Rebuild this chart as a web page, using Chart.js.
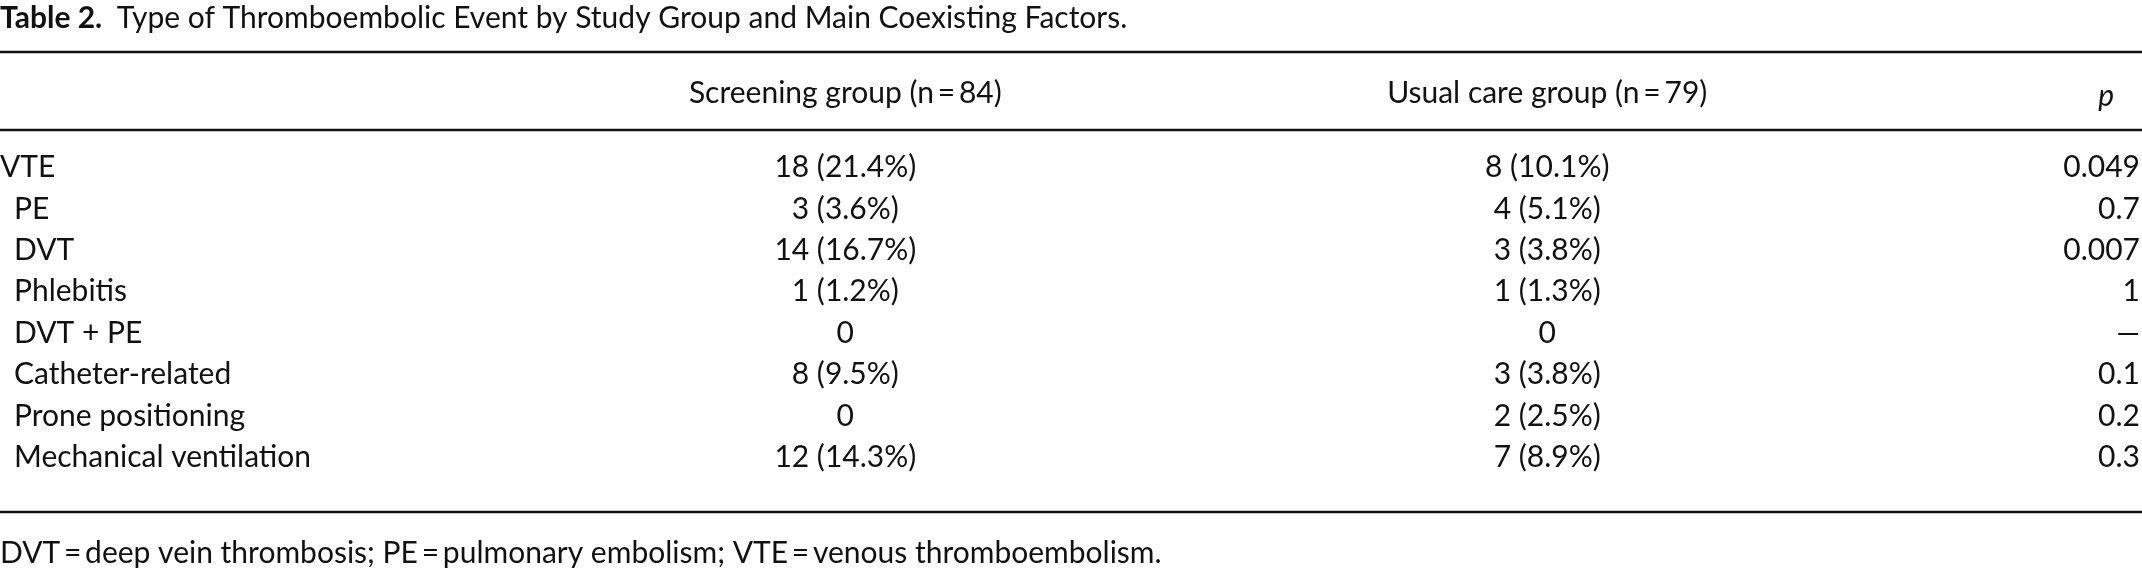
<!DOCTYPE html>
<html>
<head>
<meta charset="utf-8">
<script src="https://cdn.jsdelivr.net/npm/chart.js@4"></script>
<style>
  html, body { margin: 0; padding: 0; background: #fff; }
  #wrap { width: 2142px; height: 570px; }
</style>
</head>
<body>
<div id="wrap"><canvas id="tbl"></canvas></div>
<script>
(function () {
  "use strict";

  // table data
  const rows = ["VTE", "PE", "DVT", "Phlebitis", "DVT + PE", "Catheter-related", "Prone positioning", "Mechanical ventilation"];
  const indented = [false, true, true, true, true, true, true, true];
  const screening = ["18 (21.4%)", "3 (3.6%)", "14 (16.7%)", "1 (1.2%)", "0", "8 (9.5%)", "0", "12 (14.3%)"];
  const usualCare = ["8 (10.1%)", "4 (5.1%)", "3 (3.8%)", "1 (1.3%)", "0", "3 (3.8%)", "2 (2.5%)", "7 (8.9%)"];
  const pValues = ["0.049", "0.7", "0.007", "1", "\u2014", "0.1", "0.2", "0.3"];
  const headers = ["Screening group (n\u2009=\u200984)", "Usual care group (n\u2009=\u200979)"];

  const FONT = "Lato, 'Open Sans', sans-serif";
  const SIZE = "30px ";
  const colX = [0, 39.5, 72.3, 100]; // x-scale positions of columns

  const tablePlugin = {
    id: "tableText",
    afterDraw(chart) {
      const c = chart.ctx;
      const x = chart.scales.x;
      const y = chart.scales.y;
      c.save();
      c.fillStyle = "#111";
      c.textBaseline = "middle";

      // title
      c.font = "bold " + SIZE + FONT;
      c.textAlign = "left";
      c.fillText("Table 2.", 0, 18);
      const tw = c.measureText("Table 2.  ").width;
      c.font = SIZE + FONT;
      c.fillText("Type of Thromboembolic Event by Study Group and Main Coexisting Factors.", tw, 18);

      // rules
      c.strokeStyle = "#111";
      c.lineWidth = 2.5;
      [52, 130, 512].forEach((yy) => {
        c.beginPath();
        c.moveTo(0, yy);
        c.lineTo(chart.width, yy);
        c.stroke();
      });

      // header
      c.font = SIZE + FONT;
      c.textAlign = "center";
      c.fillText(headers[0], x.getPixelForValue(colX[1]), 93);
      c.fillText(headers[1], x.getPixelForValue(colX[2]), 93);
      c.textAlign = "right";
      c.font = "italic " + SIZE + FONT;
      c.fillText("p", x.getPixelForValue(colX[3]) - 26, 96);

      // body
      c.font = SIZE + FONT;
      rows.forEach((r, i) => {
        const yy = y.getPixelForValue(i);
        c.textAlign = "left";
        c.fillText(r, x.getPixelForValue(colX[0]) + (indented[i] ? 14 : 0), yy);
        c.textAlign = "center";
        c.fillText(screening[i], x.getPixelForValue(colX[1]), yy);
        c.fillText(usualCare[i], x.getPixelForValue(colX[2]), yy);
        c.textAlign = "right";
        c.fillText(pValues[i], x.getPixelForValue(colX[3]), yy);
      });

      // footnote
      c.textAlign = "left";
      c.fillText("DVT\u2009=\u2009deep vein thrombosis; PE\u2009=\u2009pulmonary embolism; VTE\u2009=\u2009venous thromboembolism.", 0, 553);
      c.restore();
    },
  };

  new Chart(document.getElementById("tbl"), {
    type: "bar",
    data: {
      labels: rows,
      datasets: [{ data: rows.map(() => null) }],
    },
    options: {
      responsive: true,
      maintainAspectRatio: false,
      animation: false,
      indexAxis: "y",
      layout: { padding: { top: 147, bottom: 92, left: 0, right: 2 } },
      plugins: { legend: { display: false }, tooltip: { enabled: false } },
      scales: {
        x: { type: "linear", min: 0, max: 100, display: false },
        y: { type: "category", display: false, offset: true },
      },
    },
    plugins: [tablePlugin],
  });
})();
</script>
</body>
</html>
